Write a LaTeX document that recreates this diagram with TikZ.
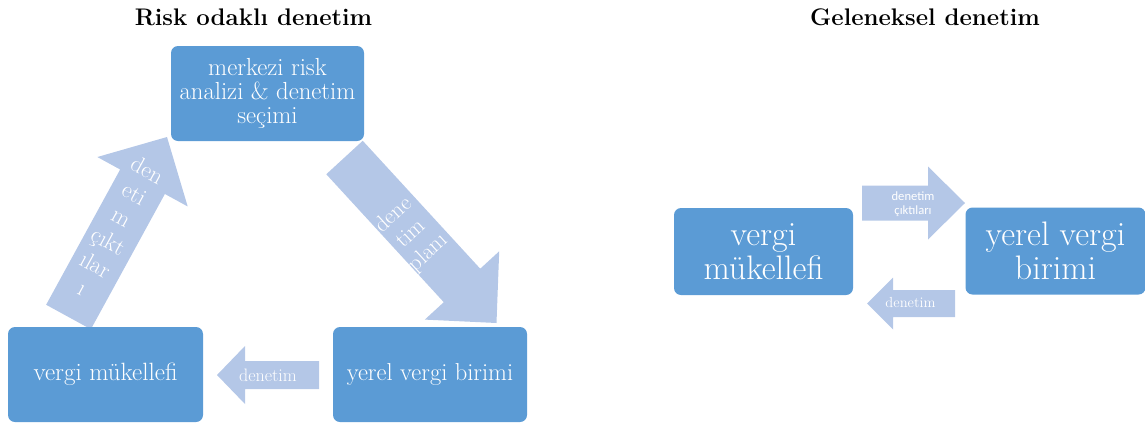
\documentclass[tikz,border=0pt]{standalone}
\usepackage{fontspec}
\newfontfamily\carlito{Carlito}
\usetikzlibrary{calc}
\definecolor{boxblue}{HTML}{5B9BD5}
\definecolor{arrblue}{HTML}{B4C7E7}
% block arrow: #1 tail, #2 tip, #3 half shaft, #4 half head, #5 head length
\newcommand\blockarr[5]{%
  \path (#1) coordinate (ba-t) (#2) coordinate (ba-p);
  \path ($(ba-p)!#5!(ba-t)$) coordinate (ba-h);
  \fill[arrblue] ($(ba-t)!#3!90:(ba-p)$) -- ($(ba-h)!#3!-90:(ba-t)$) --
    ($(ba-h)!#4!-90:(ba-t)$) -- (ba-p) -- ($(ba-h)!#4!90:(ba-t)$) --
    ($(ba-h)!#3!90:(ba-t)$) -- ($(ba-t)!#3!-90:(ba-p)$) -- cycle;
}
\begin{document}
\begin{tikzpicture}[x=1pt,y=-1pt,
  box/.style={fill=boxblue, rounded corners=7pt, inner sep=0pt, text=white, align=center},
  title/.style={font=\fontsize{24}{28}\selectfont\bfseries, text=black, inner sep=0pt, anchor=base},
  arrtext/.style={text=white, align=center, inner sep=0pt}]
\useasboundingbox (0,0) rectangle (1145,426);

% titles
\node[title] (t1) at (253.5,25) {Risk odaklı denetim};
\node[title] (t2) at (925,25) {Geleneksel denetim};

% arrow end points
\coordinate (upT) at (68.5,317);
\coordinate (upP) at (167,137);
\coordinate (dnT) at (344.5,157.5);
\coordinate (dnP) at (496.5,323);
\coordinate (lfT) at (319,375);
\coordinate (lfP) at (217,375);
\coordinate (rtT) at (862,203);
\coordinate (rtP) at (965,203);
\coordinate (rbT) at (955,303.5);
\coordinate (rbP) at (867,303.5);

\blockarr{upT}{upP}{25.5pt}{51.5pt}{51pt}
\blockarr{dnT}{dnP}{24.75pt}{50.5pt}{51pt}
\blockarr{lfT}{lfP}{14pt}{29pt}{28pt}
\blockarr{rtT}{rtP}{17.5pt}{36.5pt}{37pt}
\blockarr{rbT}{rbP}{13.5pt}{26pt}{26pt}

% boxes, left diagram
\node[box, minimum width=193pt, minimum height=95pt, font=\fontsize{24.7}{24}\selectfont] (merk) at (267.5,93.5) {merkezi risk\\analizi \& denetim\\seçimi};
\node[box, minimum width=195pt, minimum height=95pt, font=\fontsize{25}{26}\selectfont] (vm1) at (105.5,374.5) {vergi mükellefi};
\node[box, minimum width=194pt, minimum height=95pt, font=\fontsize{24.5}{26}\selectfont] (yvb1) at (430,374.5) {yerel vergi birimi};

% boxes, right diagram
\node[box, minimum width=179pt, minimum height=87pt, font=\fontsize{34}{34}\selectfont] (vm2) at (763.5,251.5) {vergi\\mükellefi};
\node[box, minimum width=180pt, minimum height=87pt, font=\fontsize{34}{34}\selectfont] (yvb2) at (1055.5,251) {yerel vergi\\birimi};

% arrow texts
\node[arrtext, rotate=-28.7, font=\fontsize{23.5}{27}\selectfont] (lab1) at (115,229) {den\\eti\\m\\çıkt\\ılar\\ı};
\node[arrtext, rotate=42.5, font=\fontsize{22.5}{25.5}\selectfont] (lab2) at (411,234) {dene\\tim\\planı};
\node[arrtext, font=\fontsize{18}{20}\selectfont] (lab3) at (268,375) {denetim};
\node[arrtext, font=\carlito\fontsize{12.6}{14}\selectfont] (lab4) at (913,204) {denetim\\çıktıları};
\node[arrtext, font=\fontsize{14.6}{16}\selectfont] (lab5) at (910.5,303) {denetim};
\end{tikzpicture}
\end{document}
